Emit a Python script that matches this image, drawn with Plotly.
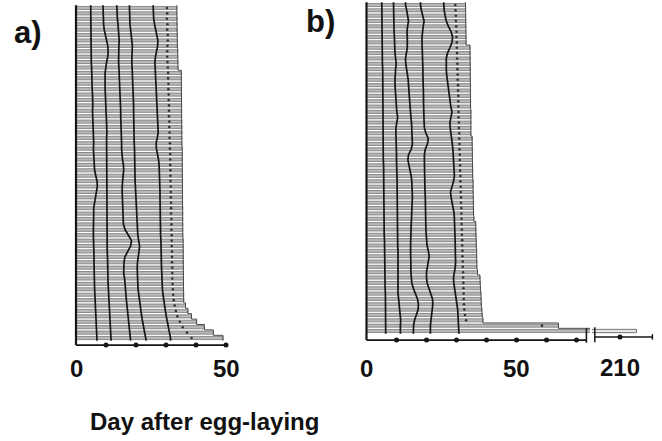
import plotly.graph_objects as go

# ---------------------------------------------------------------
# Development records, one row per individual (top = fastest).
# S1..S5: day each successive stage ended; DOT: marked event day;
# END: last day of the record.
# ---------------------------------------------------------------
A_S1 = [4.9, 4.9, 5.0, 4.9, 4.9, 5.0, 5.0, 4.9, 5.0, 5.1,
        5.1, 5.2, 5.2, 5.3, 5.3, 5.4, 5.5, 5.6, 5.6, 5.5,
        5.6, 5.7, 5.7, 5.8, 5.8, 5.9, 5.8, 5.9, 6.0, 6.0,
        6.2, 6.6, 7.0, 7.1, 6.8, 6.4, 6.0, 5.9, 5.9, 5.8,
        5.8, 5.8, 5.8, 5.9, 5.9, 5.9, 6.0, 6.0, 6.0, 6.1,
        6.1, 6.2, 6.2, 6.3, 6.4, 6.5, 6.6, 6.7, 6.8, 6.9, 7.0, 7.0]
A_S2 = [9.0, 9.0, 9.1, 9.2, 9.4, 9.8, 10.3, 10.6, 10.7, 10.6,
        10.2, 9.9, 9.7, 9.7, 9.6, 9.7, 9.8, 9.8, 9.9, 10.0,
        10.1, 10.2, 10.3, 10.3, 10.2, 10.2, 10.3, 10.4, 10.4, 10.3,
        10.2, 10.2, 10.3, 10.4, 10.4, 10.3, 10.2, 10.2, 10.2, 10.2,
        10.2, 10.3, 10.3, 10.4, 10.4, 10.4, 10.5, 10.5, 10.6, 10.6,
        10.7, 10.7, 10.8, 10.9, 11.0, 11.1, 11.2, 11.3, 11.4, 11.5, 11.6, 11.7]
A_S3 = [13.6, 13.6, 13.8, 14.0, 14.2, 14.3, 14.4, 14.3, 14.2, 14.1,
        14.2, 14.3, 14.4, 14.5, 14.6, 14.7, 14.7, 14.8, 14.8, 14.9,
        14.9, 15.0, 15.0, 15.1, 15.1, 15.2, 15.2, 15.3, 15.5, 15.8,
        15.9, 15.7, 15.5, 15.4, 15.4, 15.5, 15.5, 15.6, 15.6, 15.7,
        15.8, 16.4, 17.6, 18.5, 18.2, 17.2, 16.3, 16.0, 15.9, 15.9,
        16.2, 16.3, 16.4, 16.6, 16.8, 17.0, 17.2, 17.4, 17.6, 17.8, 18.0, 18.2]
A_S4 = [17.8, 17.8, 17.9, 18.0, 18.2, 18.4, 18.6, 18.8, 18.7, 18.6,
        18.6, 18.7, 18.8, 18.9, 19.0, 19.0, 19.1, 19.1, 19.2, 19.2,
        19.2, 19.3, 19.3, 19.3, 19.4, 19.4, 19.5, 19.5, 19.5, 19.6,
        19.6, 19.7, 19.7, 19.8, 19.9, 20.0, 20.0, 20.1, 20.1, 20.2,
        20.3, 20.4, 20.6, 20.9, 21.2, 21.0, 20.7, 20.5, 20.4, 20.4,
        20.5, 20.6, 20.7, 20.9, 21.1, 21.3, 21.6, 21.9, 22.2, 22.6, 23.0, 23.4]
A_S5 = [25.7, 25.8, 25.9, 26.2, 26.6, 27.0, 27.3, 27.2, 26.8, 26.5,
        26.3, 26.4, 26.5, 26.6, 26.7, 26.8, 26.9, 27.0, 27.1, 27.2,
        27.3, 27.3, 27.4, 27.4, 27.1, 26.7, 26.8, 27.2, 27.5, 27.7,
        27.8, 27.8, 27.9, 27.9, 28.0, 28.0, 28.0, 28.0, 28.1, 28.1,
        28.1, 28.2, 28.2, 28.3, 28.3, 28.4, 28.4, 28.5, 28.5, 28.6,
        28.6, 28.7, 28.8, 29.0, 29.2, 29.5, 29.8, 30.1, 30.5, 30.9, 31.2, 31.5]
A_DOT = [30.3, 30.4, 30.3, 30.5, 30.4, 30.6, 30.6, 30.5, 30.4, 30.4,
         30.5, 30.6, 30.7, 30.7, 30.8, 30.8, 30.9, 30.9, 31.0, 31.0,
         31.0, 31.1, 31.1, 31.2, 31.2, 31.3, 31.3, 31.4, 31.4, 31.4,
         31.5, 31.5, 31.5, 31.6, 31.6, 31.6, 31.7, 31.7, 31.7, 31.8,
         31.8, 31.8, 31.9, 31.9, 31.9, 32.0, 32.0, 32.0, 32.1, 32.1,
         32.1, 32.2, 32.3, 32.4, 32.6, 32.9, 33.3, 33.8, 34.6, 35.6, 37.0, 38.5]
A_END = [33.6, 33.6, 33.7, 33.7, 33.7, 33.8, 33.8, 33.8, 33.9, 33.9,
         34.0, 34.0, 35.1, 35.1, 35.1, 35.1, 35.2, 35.2, 35.2, 35.2,
         35.2, 35.3, 35.3, 35.3, 35.3, 35.3, 35.4, 35.4, 35.4, 35.4,
         35.4, 35.4, 35.5, 35.5, 35.5, 35.5, 35.5, 35.6, 35.6, 35.6,
         35.6, 35.6, 35.6, 35.7, 35.7, 35.7, 35.7, 35.7, 35.8, 35.8,
         35.8, 35.8, 35.8, 35.9, 35.9, 36.5, 37.3, 38.5, 40.2, 42.8, 45.8, 49.0]

B_S1 = [5.1, 5.1, 5.2, 5.2, 5.2, 5.2, 5.3, 5.3, 5.3, 5.3,
        5.3, 5.3, 5.4, 5.4, 5.4, 5.4, 5.4, 5.4, 5.5, 5.5,
        5.5, 5.5, 5.5, 5.5, 5.6, 5.6, 5.6, 5.6, 5.6, 5.6,
        5.7, 5.7, 5.7, 5.7, 5.7, 5.8, 5.8, 5.8, 5.8, 5.8,
        5.9, 5.9, 5.9, 5.9, 6.0, 6.0, 6.0, 6.0, 6.1, 6.1,
        6.1, 6.2, 6.2, 6.2, 6.3, 6.3, 6.3, 6.3, 6.4, 6.4, 6.4, 6.4]
B_S2 = [9.0, 9.0, 9.1, 9.1, 9.2, 9.2, 9.3, 9.3, 9.4, 9.5,
        9.7, 9.9, 9.7, 9.5, 9.5, 9.5, 9.6, 9.6, 9.7, 9.8,
        10.1, 10.4, 10.1, 9.8, 9.8, 9.9, 9.9, 10.0, 10.0, 10.0,
        10.1, 10.1, 10.1, 10.2, 10.2, 10.2, 10.2, 10.3, 10.3, 10.3,
        10.3, 10.3, 10.4, 10.4, 10.4, 10.4, 10.5, 10.5, 10.5, 10.4,
        10.3, 10.3, 10.3, 10.4, 10.5, 10.7, 10.9, 11.2, 11.4, 11.4, 11.3, 11.3]
B_S3 = [13.0, 13.4, 13.8, 14.0, 13.7, 13.5, 13.6, 13.7, 13.6, 13.3,
        13.0, 13.1, 13.4, 13.7, 13.9, 14.0, 14.1, 14.2, 14.3, 14.4,
        14.6, 14.8, 15.0, 15.1, 15.2, 15.3, 15.3, 14.9, 14.0, 13.8,
        14.2, 14.6, 14.9, 15.1, 15.2, 15.3, 15.3, 15.2, 15.2, 15.1,
        15.0, 14.9, 14.8, 14.8, 14.7, 14.7, 14.7, 14.8, 14.8, 14.8,
        14.8, 14.9, 15.1, 15.6, 16.3, 17.0, 17.3, 17.2, 16.6, 16.0, 15.7, 15.6]
B_S4 = [18.0, 18.3, 18.8, 19.2, 18.9, 18.6, 18.5, 18.5, 18.6, 18.6,
        18.7, 18.7, 18.8, 18.8, 18.9, 18.9, 18.9, 19.0, 19.0, 19.0,
        19.1, 19.1, 19.2, 19.3, 19.8, 20.6, 20.3, 19.6, 19.3, 19.3,
        19.3, 19.4, 19.4, 19.5, 19.5, 19.5, 19.6, 19.6, 19.7, 19.7,
        19.7, 19.8, 19.8, 19.9, 20.0, 20.2, 20.6, 20.9, 20.6, 20.2,
        20.0, 20.0, 20.2, 20.8, 21.5, 22.0, 22.1, 21.9, 21.6, 21.4, 21.3, 21.3]
B_S5 = [25.7, 25.9, 26.2, 26.6, 27.3, 28.2, 28.7, 28.5, 27.8, 27.0,
        26.6, 26.5, 26.6, 26.7, 26.9, 27.1, 27.3, 27.6, 27.9, 28.1,
        28.5, 28.1, 27.8, 27.9, 28.2, 28.4, 28.6, 28.8, 28.9, 29.0,
        29.1, 29.2, 29.3, 29.0, 28.4, 28.0, 28.2, 28.6, 29.0, 29.2,
        29.3, 29.4, 29.4, 29.5, 29.5, 29.6, 29.6, 29.7, 29.7, 29.6,
        29.2, 29.0, 29.1, 29.4, 29.7, 30.0, 30.2, 30.4, 30.5, 30.6, 30.7, 30.8]
B_DOT = [29.6, 29.7, 29.8, 29.8, 29.9, 30.0, 30.0, 30.1, 30.1, 30.2,
         30.2, 30.3, 30.3, 30.4, 30.4, 30.5, 30.5, 30.6, 30.6, 30.6,
         30.7, 30.7, 30.8, 30.8, 30.9, 30.9, 31.0, 31.0, 31.1, 31.1,
         31.2, 31.2, 31.3, 31.3, 31.4, 31.4, 31.5, 31.5, 31.6, 31.6,
         31.7, 31.7, 31.8, 31.8, 31.9, 31.9, 32.0, 32.0, 32.1, 32.1,
         32.2, 32.2, 32.3, 32.3, 32.4, 32.4, 32.5, 32.6, 32.8, 33.2, 58.5, None]
B_END = [33.0, 33.0, 33.0, 33.1, 33.1, 33.1, 33.2, 33.2, 34.5, 34.5,
         34.6, 34.6, 34.6, 34.6, 34.6, 34.7, 34.7, 34.7, 34.7, 34.7,
         34.8, 34.8, 34.8, 34.8, 34.8, 35.2, 35.2, 35.3, 35.3, 35.3,
         35.4, 35.4, 35.4, 35.5, 35.5, 35.5, 35.6, 35.6, 35.6, 35.7,
         35.8, 36.4, 36.5, 36.5, 36.6, 36.6, 36.7, 36.7, 36.8, 36.8,
         37.0, 37.8, 37.9, 38.0, 38.1, 38.2, 38.3, 38.4, 38.6, 38.8, 64.0, 215.5]

# axis ticks (days) and labels
A_TICKS = [0, 10, 20, 30, 40, 50]
B_TICKS = [0, 10, 20, 30, 40, 50, 60, 70]
BREAK_TICKS = [210]
A_LABELS = [(0, "0"), (50, "50")]
B_LABELS = [(0, "0"), (50, "50")]
BREAK_LABELS = [(210, "210")]
X_TITLE = "Day after egg-laying"

# ---------------------------------------------------------------
# Page geometry (pixels) -> axis domains and ranges
# ---------------------------------------------------------------
W, H = 662, 441
PX_PER_DAY = 3.0
PLOT_BOTTOM_PX = 352


def x_axis(px_lo, px_hi, px_ref, day_ref):
    dom = [px_lo / W, px_hi / W]
    rng = [day_ref + (px_lo - px_ref) / PX_PER_DAY,
           day_ref + (px_hi - px_ref) / PX_PER_DAY]
    return dict(domain=dom, range=rng, visible=False, fixedrange=True)


def y_axis(first_row_px, row_px):
    rng = [(PLOT_BOTTOM_PX - first_row_px) / row_px, -first_row_px / row_px]
    return dict(domain=[1 - PLOT_BOTTOM_PX / H, 1], range=rng,
                visible=False, fixedrange=True)


BAR_FILL = "#b8b8b8"
BAR_EDGE = "#6a6a6a"
INK = "#161616"

fig = go.Figure()


def add_panel(xa, ya, stages, dots, ends, ticks, axis_row, axis_end):
    rows = list(range(len(ends)))
    # one bar per individual
    fig.add_trace(go.Bar(x=ends, y=rows, base=0, orientation="h", width=0.58,
                         marker=dict(color=BAR_FILL,
                                     line=dict(color=BAR_EDGE, width=0.7)),
                         xaxis=xa, yaxis=ya, hoverinfo="skip"))
    # right-hand outline of the block
    sx, sy = [], []
    for r, e in zip(rows, ends):
        sx += [e, e]
        sy += [r - 0.5, r + 0.5]
    fig.add_trace(go.Scatter(x=sx, y=sy, mode="lines",
                             line=dict(color="#4a4a4a", width=1.0),
                             xaxis=xa, yaxis=ya, hoverinfo="skip"))
    # stage boundaries linked from row to row
    for s in stages:
        fig.add_trace(go.Scatter(x=[s[0]] + s + [s[-1]],
                                 y=[-0.5] + rows + [rows[-1] + 0.5],
                                 mode="lines",
                                 line=dict(color=INK, width=1.7),
                                 xaxis=xa, yaxis=ya, hoverinfo="skip"))
    fig.add_trace(go.Scatter(x=dots, y=rows, mode="markers",
                             marker=dict(color="#333333", size=2.6),
                             xaxis=xa, yaxis=ya, hoverinfo="skip"))
    # day-0 edge and time axis
    fig.add_trace(go.Scatter(x=[ticks[0], ticks[0]], y=[-0.5, axis_row],
                             mode="lines", line=dict(color=INK, width=2.2),
                             xaxis=xa, yaxis=ya, hoverinfo="skip"))
    fig.add_trace(go.Scatter(x=[ticks[0], axis_end], y=[axis_row, axis_row],
                             mode="lines", line=dict(color=INK, width=1.8),
                             xaxis=xa, yaxis=ya, hoverinfo="skip"))
    fig.add_trace(go.Scatter(x=ticks[1:], y=[axis_row] * (len(ticks) - 1),
                             mode="markers", marker=dict(color=INK, size=5),
                             xaxis=xa, yaxis=ya, hoverinfo="skip"))


# panel a
A_AXIS_ROW = 62.3
add_panel("x", "y", [A_S1, A_S2, A_S3, A_S4, A_S5], A_DOT, A_END,
          A_TICKS, A_AXIS_ROW, A_TICKS[-1])

# panel b (main span)
B_AXIS_ROW = 62.7
B_AXIS_END = 73.3
add_panel("x2", "y2", [B_S1, B_S2, B_S3, B_S4, B_S5], B_DOT, B_END,
          B_TICKS, B_AXIS_ROW, B_AXIS_END)
fig.add_trace(go.Scatter(x=[B_AXIS_END, B_AXIS_END], y=[60.5, 63.2],
                         mode="lines", line=dict(color=INK, width=1.6),
                         xaxis="x2", yaxis="y2", hoverinfo="skip"))

# panel b (after the axis break)
BREAK_START, BREAK_END = 201.6, 220.8
fig.add_trace(go.Bar(x=B_END, y=list(range(len(B_END))), base=0,
                     orientation="h", width=0.62,
                     marker=dict(color="#e6e6e6",
                                 line=dict(color="#555555", width=0.8)),
                     xaxis="x3", yaxis="y2", hoverinfo="skip"))
fig.add_trace(go.Scatter(x=[BREAK_START, BREAK_END], y=[B_AXIS_ROW - 0.6] * 2,
                         mode="lines", line=dict(color=INK, width=1.5),
                         xaxis="x3", yaxis="y2", hoverinfo="skip"))
fig.add_trace(go.Scatter(x=BREAK_TICKS, y=[B_AXIS_ROW - 0.6] * len(BREAK_TICKS),
                         mode="markers", marker=dict(color=INK, size=5),
                         xaxis="x3", yaxis="y2", hoverinfo="skip"))
fig.add_trace(go.Scatter(x=[BREAK_START, BREAK_START, None, BREAK_END, BREAK_END],
                         y=[60.3, 63.1, None, 61.6, 62.6],
                         mode="lines", line=dict(color=INK, width=1.5),
                         xaxis="x3", yaxis="y2", hoverinfo="skip"))

FONT = "Liberation Sans, Arial, Helvetica, sans-serif"
ann = []


def label(text, x, xref, y_px, size):
    return dict(text=f"<b>{text}</b>", x=x, xref=xref, y=1 - y_px / H,
                yref="paper", showarrow=False, xanchor="center",
                yanchor="middle",
                font=dict(size=size, family=FONT, color="#111"))


for v, t in A_LABELS:
    ann.append(label(t, v, "x", 368, 24))
for v, t in B_LABELS:
    ann.append(label(t, v, "x2", 368, 24))
for v, t in BREAK_LABELS:
    ann.append(label(t, v, "x3", 367, 24))
ann.append(label("a)", 28 / W, "paper", 32, 31))
ann.append(label("b)", 320 / W, "paper", 22, 31))
ann.append(label(X_TITLE, 205 / W, "paper", 421, 24))

fig.update_layout(
    width=W, height=H,
    margin=dict(l=0, r=0, t=0, b=0),
    paper_bgcolor="white", plot_bgcolor="rgba(0,0,0,0)",
    showlegend=False, barmode="overlay",
    xaxis=x_axis(68, 236, 76, 0),
    yaxis=y_axis(8, 330 / 61),
    xaxis2=dict(x_axis(358, 590, 366.5, 0), anchor="y2"),
    yaxis2=dict(y_axis(5, 326 / 61), anchor="x2"),
    xaxis3=dict(x_axis(592, 658, 620, 210), anchor="y2"),
    annotations=ann,
)

fig.write_html("out.html")
